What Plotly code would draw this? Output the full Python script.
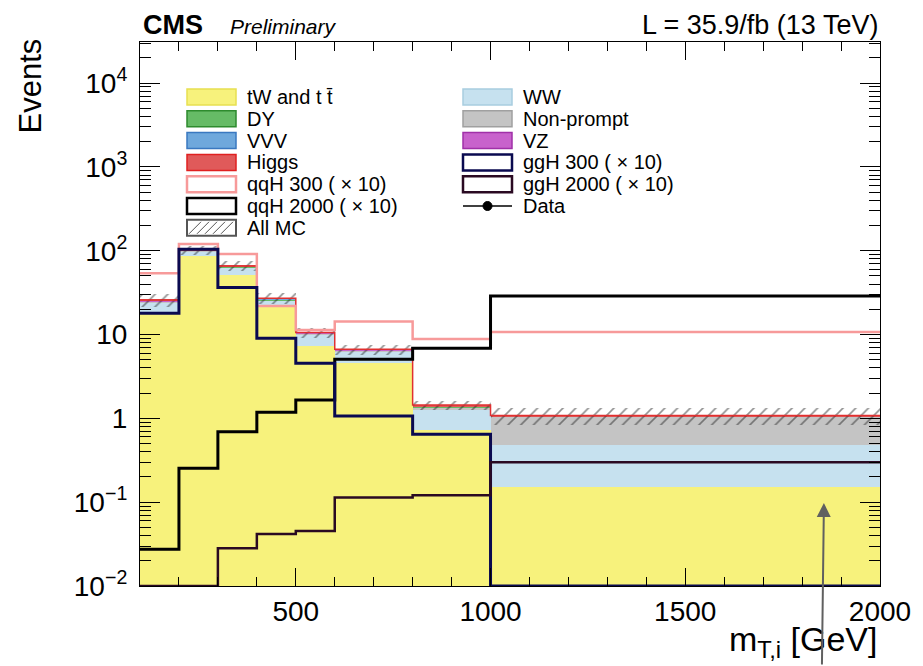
import plotly.graph_objects as go

# ---------------- data ----------------
edges = [100, 200, 300, 400, 500, 600, 800, 1000, 2000]

tw_tt     = [18.5, 86.0, 51.0, 22.0, 7.2, 4.6, 0.72, 0.15]
ww        = [5.8, 12.5, 11.5, 3.4, 2.8, 1.7, 0.55, 0.33]
nonprompt = [0.4, 1.2, 1.0, 0.3, 0.2, 0.1, 0.08, 0.56]
dy        = [0.3, 0.4, 0.5, 0.8, 0.1, 0.05, 0.02, 0.005]
vvv       = [0.1, 0.2, 0.2, 0.1, 0.05, 0.03, 0.01, 0.005]
vz        = [0.2, 0.4, 0.4, 0.2, 0.1, 0.06, 0.02, 0.01]
higgs     = [0.6, 1.3, 1.3, 0.3, 0.15, 0.13, 0.04, 0.02]
mc_unc    = [0.18, 0.12, 0.14, 0.15, 0.14, 0.14, 0.12, 0.23]

qqh300  = [53.9, 120.0, 91.6, 21.9, 11.3, 14.3, 8.85, 10.7]
qqh2000 = [0.0274, 0.254, 0.694, 1.18, 1.66, 5.07, 6.86, 28.9]
ggh300  = [17.9, 104.0, 36.5, 9.0, 4.54, 1.07, 0.646, 0.01]
ggh2000 = [0.01, 0.01, 0.0282, 0.0417, 0.0453, 0.114, 0.121, 0.299]

x_tickvals = [500, 1000, 1500, 2000]
x_minorvals = [200, 300, 400, 600, 700, 800, 900, 1100, 1200, 1300, 1400,
               1600, 1700, 1800, 1900]
y_tickvals = [0.01, 0.1, 1, 10, 100, 1000, 10000]
y_ticktext = ["10<sup>−2</sup>", "10<sup>−1</sup>", "1", "10",
              "10<sup>2</sup>", "10<sup>3</sup>", "10<sup>4</sup>"]
y_minorvals = [m * 10 ** e for e in range(-2, 5) for m in range(2, 10)]

stack_names = ["tW and t t\u0304", "WW", "Non-prompt", "DY", "VVV", "VZ", "Higgs"]
stack_values = [tw_tt, ww, nonprompt, dy, vvv, vz, higgs]
stack_fill = ["#f7f27c", "#c6e1ef", "#c4c4c4", "#66bb66", "#6fa8dc", "#c862cc", "#e05a5a"]
stack_line = ["#e8e050", "#a8cde0", "#a0a0a0", "#2e8b2e", "#3a78c0", "#a030a8", "#e02020"]

sig_names = ["qqH 300 ( × 10)", "qqH 2000 ( × 10)", "ggH 300 ( × 10)", "ggH 2000 ( × 10)"]
sig_values = [qqh300, qqh2000, ggh300, ggh2000]
sig_colors = ["#f79a9a", "#000000", "#0a0a50", "#2a0a22"]
sig_widths = [2.5, 3, 3, 2.5]

FONT = "Liberation Sans"

centers = [(a + b) / 2 for a, b in zip(edges[:-1], edges[1:])]
widths = [b - a for a, b in zip(edges[:-1], edges[1:])]

fig = go.Figure()

# stacked backgrounds
cum = [0.001] * len(centers)
totals = [0.0] * len(centers)
for name, vals, fc, lc in zip(stack_names, stack_values, stack_fill, stack_line):
    fig.add_trace(go.Bar(x=centers, width=widths, base=list(cum), y=vals,
                         marker=dict(color=fc, line=dict(width=0)),
                         name=name, showlegend=False, hoverinfo="skip"))
    cum = [c + v for c, v in zip(cum, vals)]
    totals = [t + v for t, v in zip(totals, vals)]

# top edge of stack (Higgs line colour)
fig.add_trace(go.Scatter(x=edges, y=totals + [totals[-1]], mode="lines",
                         line=dict(shape="hv", color="#e03030", width=1.5),
                         showlegend=False, hoverinfo="skip"))

# MC uncertainty band (hatched)
lo = [t * (1 - u) for t, u in zip(totals, mc_unc)]
hi = [t * (1 + u) for t, u in zip(totals, mc_unc)]
fig.add_trace(go.Bar(x=centers, width=widths, base=lo, y=[h - l for h, l in zip(hi, lo)],
                     marker=dict(color="rgba(0,0,0,0)", line=dict(width=0),
                                 pattern=dict(shape="/", fgcolor="#222222",
                                              bgcolor="rgba(0,0,0,0)", size=9,
                                              solidity=0.18)),
                     name="All MC", showlegend=False, hoverinfo="skip"))

# signals
for name, vals, col, w in zip(sig_names, sig_values, sig_colors, sig_widths):
    fig.add_trace(go.Scatter(x=edges, y=vals + [vals[-1]], mode="lines",
                             line=dict(shape="hv", color=col, width=w),
                             name=name, showlegend=False, hoverinfo="skip"))

# ---------------- layout ----------------
W, H = 923, 666
PL, PR, PT, PB = 140, 880, 42, 586


def px(x):
    return (x - PL) / (PR - PL)


def py(y):
    return (PB - y) / (PB - PT)


fig.update_layout(
    width=W, height=H,
    margin=dict(l=PL, r=W - PR, t=PT, b=H - PB),
    paper_bgcolor="white", plot_bgcolor="white",
    barmode="overlay", bargap=0,
    font=dict(family=FONT, color="black"),
    showlegend=False,
    xaxis=dict(range=[edges[0], edges[-1]], tickvals=x_tickvals,
               ticks="inside", ticklen=18, tickwidth=1, tickcolor="black",
               minor=dict(tickvals=x_minorvals, ticks="inside", ticklen=9,
                          tickwidth=1, tickcolor="black"),
               showline=True, linecolor="black", linewidth=1.2, mirror="allticks",
               showgrid=False, zeroline=False,
               tickfont=dict(size=28, family=FONT)),
    yaxis=dict(type="log", range=[-2, 4.49], tickvals=y_tickvals, ticktext=y_ticktext,
               ticks="inside", ticklen=20, tickwidth=1, tickcolor="black",
               minor=dict(tickvals=y_minorvals, ticks="inside", ticklen=11,
                          tickwidth=1, tickcolor="black"),
               showline=True, linecolor="black", linewidth=1.2, mirror="allticks",
               showgrid=False, zeroline=False, ticklabelstandoff=6,
               tickfont=dict(size=28, family=FONT)),
)

ann = []
shapes = []
# titles
ann.append(dict(text="Events", x=px(30), y=py(37), xref="paper", yref="paper",
                xanchor="center", yanchor="top", textangle=-90, showarrow=False,
                font=dict(size=31, family=FONT)))
ann.append(dict(text="m<sub>T,i</sub> [GeV]", x=1, y=py(641), xref="paper", yref="paper",
                xanchor="right", yanchor="middle", showarrow=False,
                font=dict(size=34, family=FONT)))
ann.append(dict(text="<b>CMS</b>", x=px(141), y=py(25), xref="paper", yref="paper",
                xanchor="left", yanchor="middle", showarrow=False,
                font=dict(size=27, family=FONT)))
ann.append(dict(text="<i>Preliminary</i>", x=px(228), y=py(27), xref="paper", yref="paper",
                xanchor="left", yanchor="middle", showarrow=False,
                font=dict(size=21, family=FONT)))
ann.append(dict(text="L = 35.9/fb (13 TeV)", x=1, y=py(25), xref="paper", yref="paper",
                xanchor="right", yanchor="middle", showarrow=False,
                font=dict(size=27, family=FONT)))

# manual legend
row0, drow = 97, 21.8
sw_h = 8
cols = [(187, 236, 245), (463, 512, 521)]
left_items = [("fill", 0), ("fill", 3), ("fill", 4), ("fill", 6), ("sig", 0), ("sig", 1), ("hatch", None)]
right_items = [("fill", 1), ("fill", 2), ("fill", 5), ("sig", 2), ("sig", 3), ("data", None)]
for (x0, x1, xt), items in zip(cols, [left_items, right_items]):
    for i, (kind, idx) in enumerate(items):
        yc = row0 + i * drow
        if kind == "fill":
            label = stack_names[idx]
            shapes.append(dict(type="rect", xref="paper", yref="paper",
                               x0=px(x0), x1=px(x1), y0=py(yc - sw_h), y1=py(yc + sw_h),
                               fillcolor=stack_fill[idx], line=dict(color=stack_line[idx], width=1.5)))
        elif kind == "sig":
            label = sig_names[idx]
            shapes.append(dict(type="rect", xref="paper", yref="paper",
                               x0=px(x0), x1=px(x1), y0=py(yc - sw_h), y1=py(yc + sw_h),
                               fillcolor="white", line=dict(color=sig_colors[idx], width=2.5)))
        elif kind == "hatch":
            label = "All MC"
            shapes.append(dict(type="rect", xref="paper", yref="paper",
                               x0=px(x0), x1=px(x1), y0=py(yc - sw_h), y1=py(yc + sw_h),
                               fillcolor="white", line=dict(color="#555555", width=2)))
            path = ""
            step = 8
            xs = x0 + 2
            while xs + 2 * sw_h - 4 <= x1:
                path += "M{},{} L{},{} ".format(px(xs), py(yc + sw_h - 2),
                                                px(xs + 2 * sw_h - 4), py(yc - sw_h + 2))
                xs += step
            shapes.append(dict(type="path", xref="paper", yref="paper", path=path,
                               line=dict(color="#555555", width=1)))
        else:
            label = "Data"
            shapes.append(dict(type="line", xref="paper", yref="paper",
                               x0=px(x0), x1=px(x1), y0=py(yc), y1=py(yc),
                               line=dict(color="black", width=1.5)))
            xm = (x0 + x1) / 2
            shapes.append(dict(type="circle", xref="paper", yref="paper",
                               x0=px(xm - 4.5), x1=px(xm + 4.5), y0=py(yc - 4.5), y1=py(yc + 4.5),
                               fillcolor="black", line=dict(color="black", width=1)))
        ann.append(dict(text=label, x=px(xt), y=py(yc), xref="paper", yref="paper",
                        xanchor="left", yanchor="middle", showarrow=False,
                        font=dict(size=20, family=FONT)))

# arrow
ann.append(dict(text="", x=1856, y=-1.01, xref="x", yref="y", showarrow=True,
                ax=-2, ay=166, axref="pixel", ayref="pixel",
                arrowhead=2, arrowsize=1.4, arrowwidth=2, arrowcolor="#606060", standoff=0))

fig.update_layout(annotations=ann, shapes=shapes)

fig.write_html("out.html")
